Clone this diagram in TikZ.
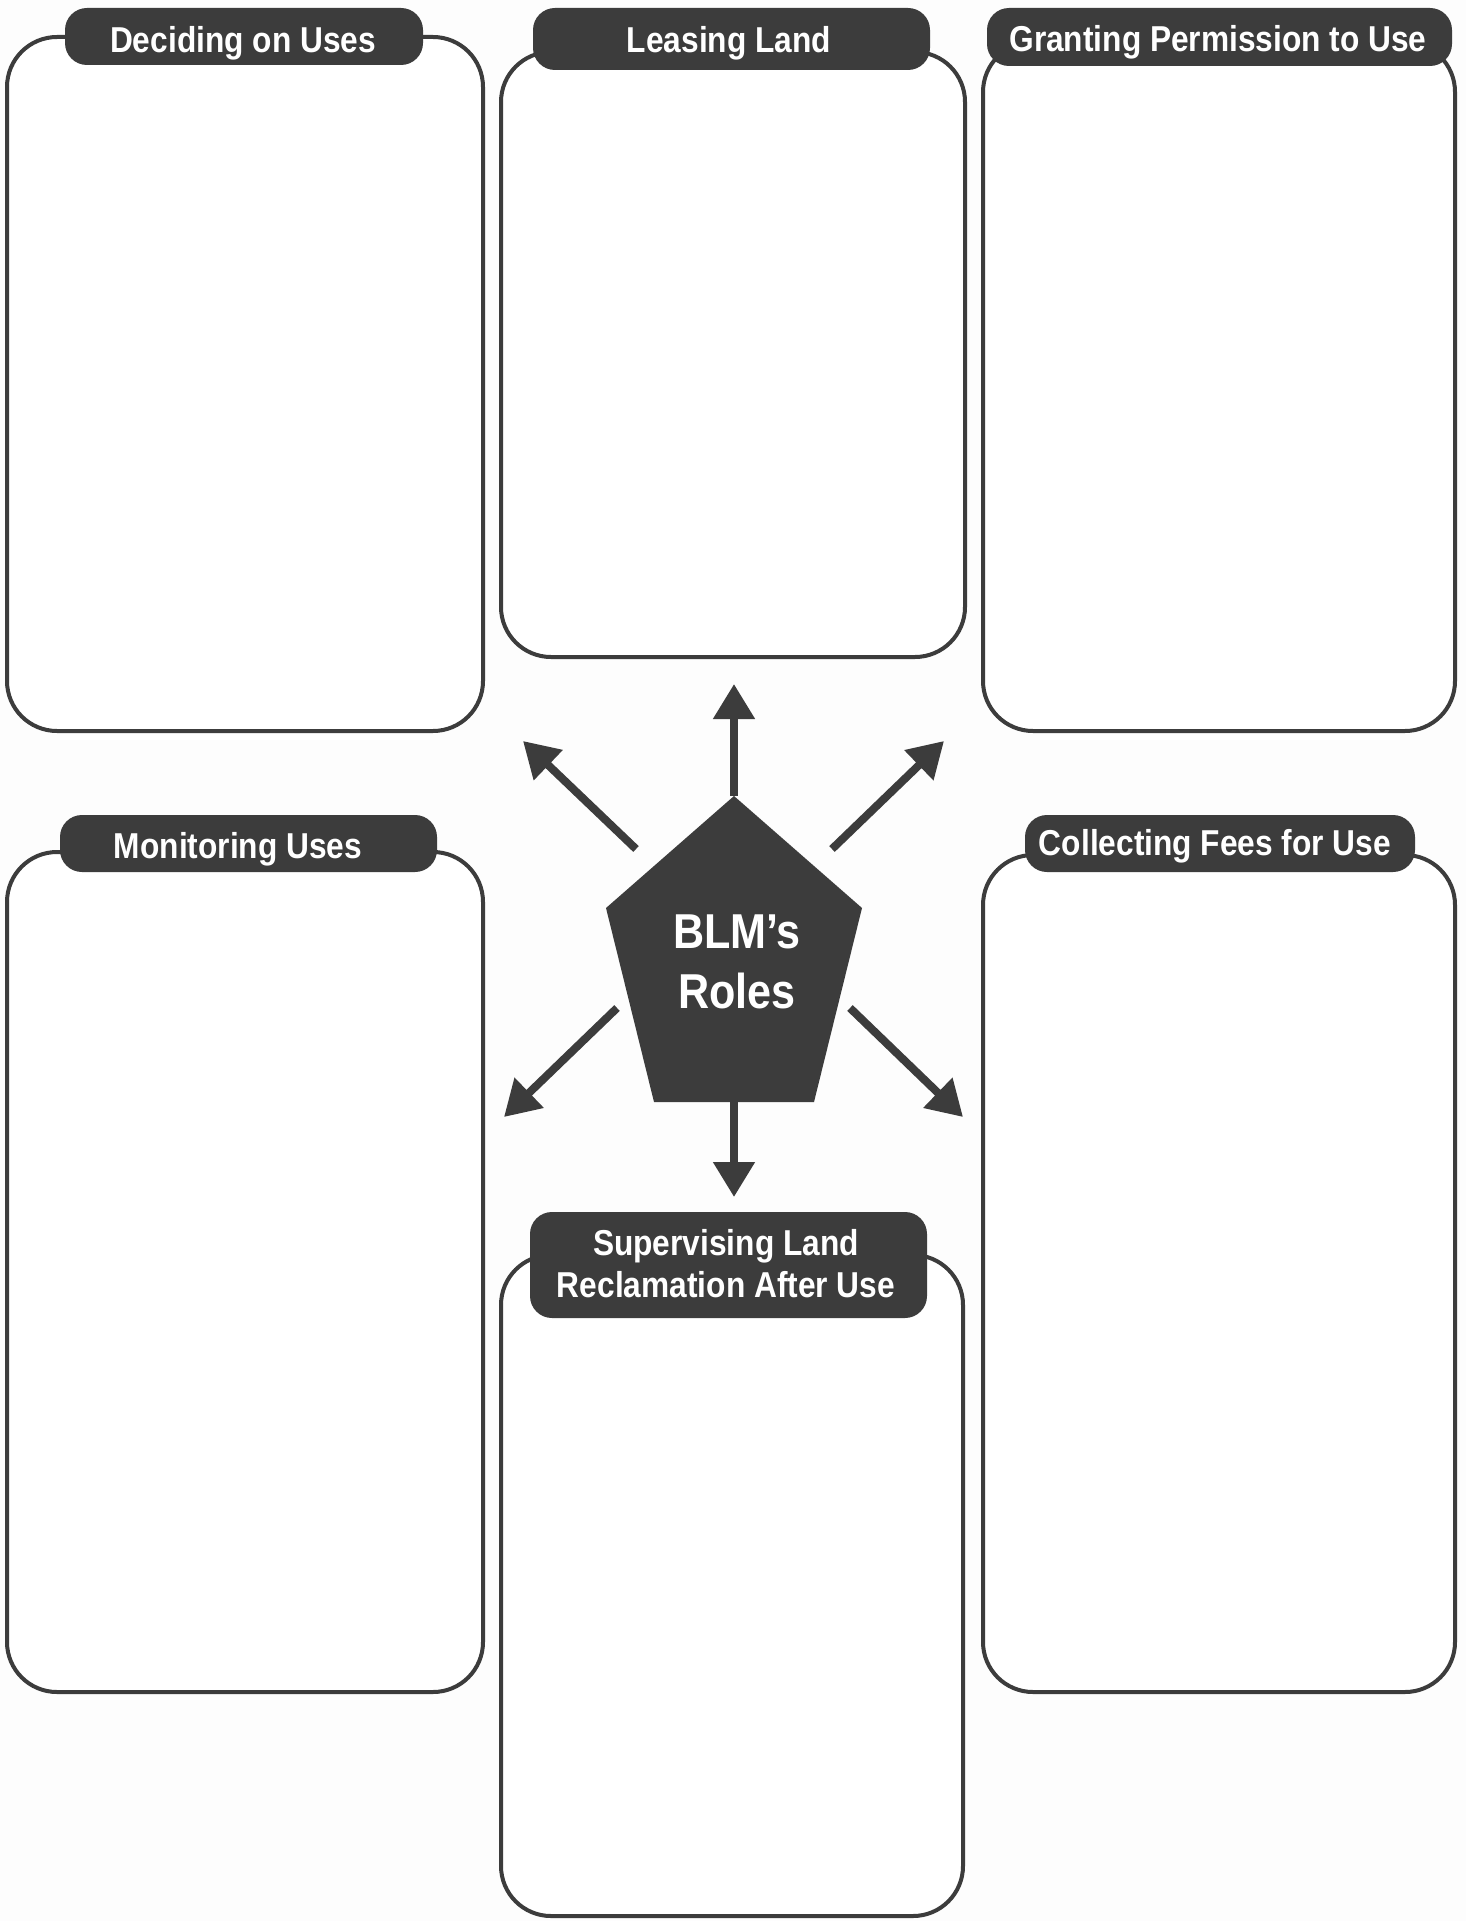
\documentclass[tikz,border=0pt]{standalone}
\usepackage{fontspec}
\setmainfont{Liberation Sans}[FakeStretch=0.88]
\usetikzlibrary{arrows.meta}
\definecolor{ink}{HTML}{3C3C3C}
\definecolor{paper}{HTML}{FDFDFD}
\begin{document}
\begin{tikzpicture}[x=1pt,y=-1pt,
  panel/.style={draw=ink, line width=4pt, fill=white, rounded corners=50pt},
  tabbox/.style={fill=ink, rounded corners=22pt},
  tabtext/.style={text=white, font=\bfseries\fontsize{36}{42}\selectfont, anchor=base, inner sep=0pt},
  roletext/.style={text=white, font=\bfseries\fontsize{49}{60}\selectfont, anchor=base, inner sep=0pt},
  arr/.style={draw=ink, line width=8pt, -{Triangle[width=40pt,length=35pt]}}]
\useasboundingbox (0,0) rectangle (1466,1921);
\fill[paper] (0,0) rectangle (1466,1921);

% panels
\draw[panel] (7,37) rectangle (483,731);
\draw[panel] (501,52) rectangle (965,657);
\draw[panel] (983,42) rectangle (1455,731);
\draw[panel] (7,852) rectangle (483,1692);
\draw[panel] (983,855) rectangle (1455,1692);
\draw[panel] (501,1255) rectangle (963,1916);

% tabs
\fill[tabbox] (65,8) rectangle (423,65);
\node[tabtext] (t1) at (243,53) {Deciding on Uses};
\fill[tabbox] (533,8) rectangle (930,70);
\node[tabtext] (t2) at (729,53) {Leasing Land};
\fill[tabbox] (987,8) rectangle (1452,66);
\node[tabtext] (t3) at (1218,52) {Granting Permission to Use};
\fill[tabbox] (60,815) rectangle (437,872);
\node[tabtext] (t4) at (238,858) {Monitoring Uses};
\fill[tabbox] (1025,815) rectangle (1415,872);
\node[tabtext] (t5) at (1215,855) {Collecting Fees for Use};
\fill[tabbox] (530,1212) rectangle (927,1318);
\node[tabtext] (t6a) at (726,1255) {Supervising Land};
\node[tabtext] (t6b) at (726,1297) {Reclamation After Use};

% pentagon
\coordinate (pA) at (734,796);
\coordinate (pB) at (862,908);
\coordinate (pC) at (814,1102);
\coordinate (pD) at (654,1102);
\coordinate (pE) at (606,908);
\coordinate (pBot) at (734,1102);
\fill[ink] (pA) -- (pB) -- (pC) -- (pD) -- (pE) -- cycle;
\node[roletext] (blm) at (737,948) {BLM’s};
\node[roletext] (roles) at (737,1008) {Roles};

% arrows
\coordinate (upE) at (734,684);
\coordinate (dnE) at (734,1197);
\coordinate (ulS) at (636,849);
\coordinate (ulE) at (523,741);
\coordinate (urS) at (832,849);
\coordinate (urE) at (944,741);
\coordinate (llS) at (617,1008);
\coordinate (llE) at (504,1117);
\coordinate (lrS) at (850,1008);
\coordinate (lrE) at (963,1117);
\draw[arr] (pA) -- (upE);
\draw[arr] (pBot) -- (dnE);
\draw[arr] (ulS) -- (ulE);
\draw[arr] (urS) -- (urE);
\draw[arr] (llS) -- (llE);
\draw[arr] (lrS) -- (lrE);
\end{tikzpicture}
\end{document}
